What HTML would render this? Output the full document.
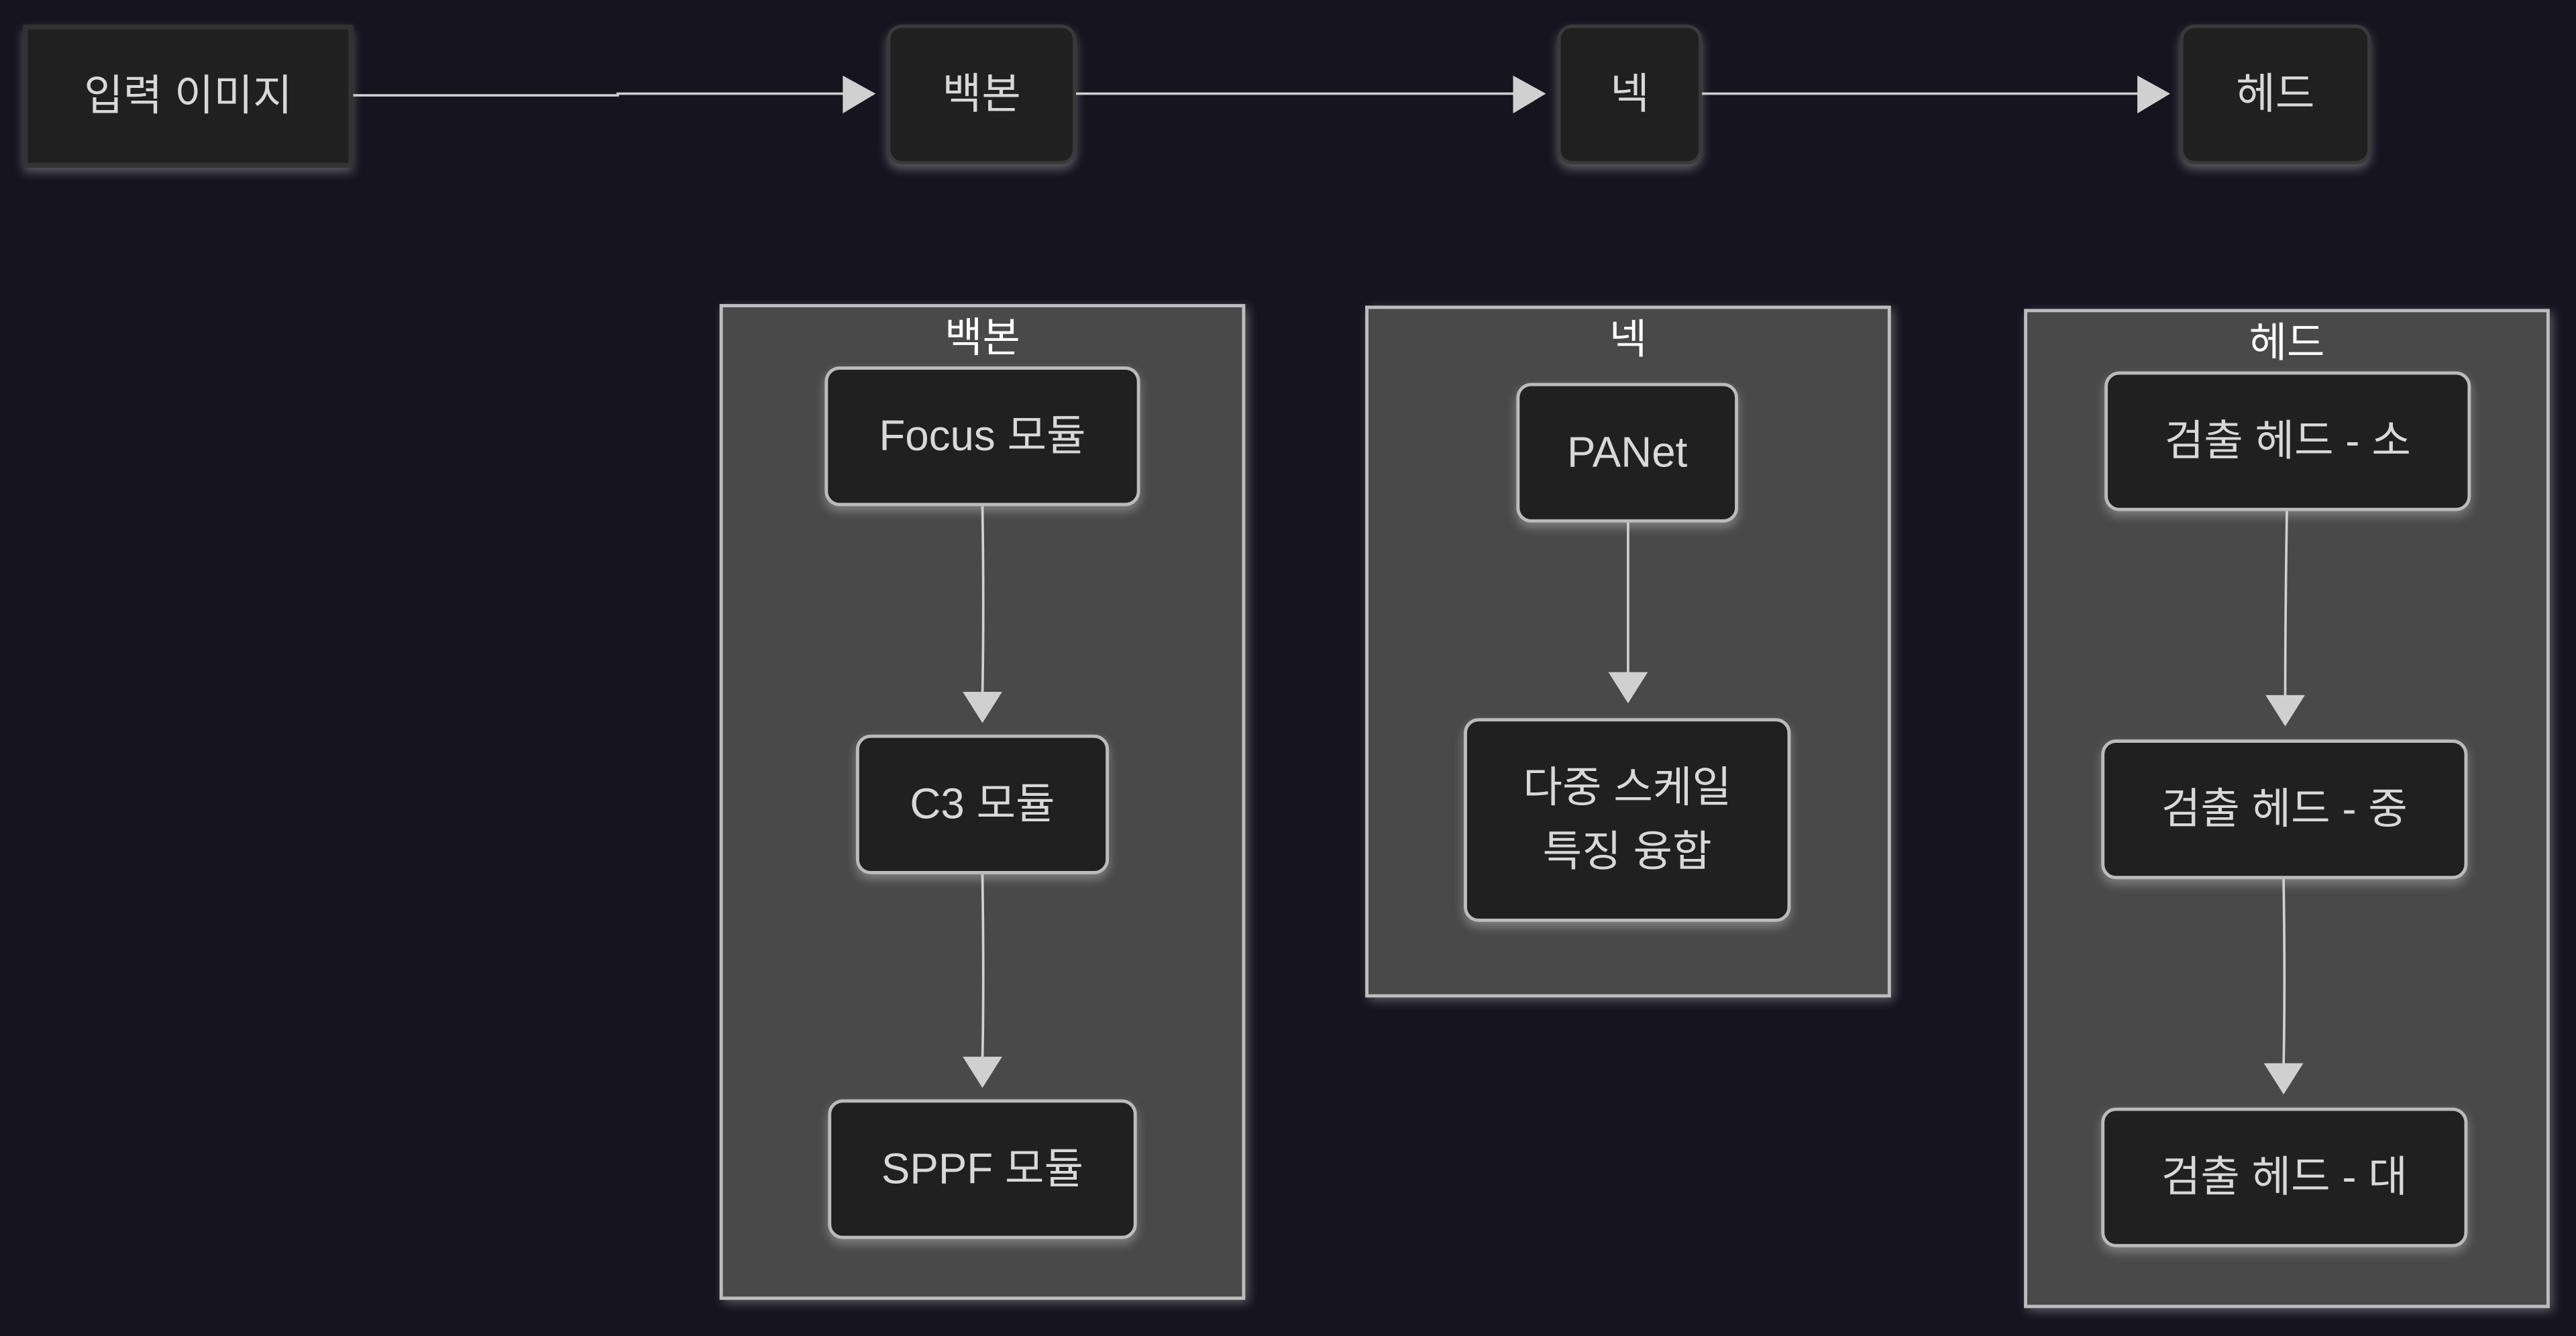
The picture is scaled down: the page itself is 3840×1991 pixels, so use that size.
<!DOCTYPE html>
<html><head><meta charset="utf-8"><style>
html,body{margin:0;padding:0;background:#15141f;width:3840px;height:1991px;overflow:hidden}
#w{position:absolute;left:0;top:0;width:1568px;height:813px;transform:scale(2.44898);transform-origin:0 0;font-family:"Liberation Sans","Noto Sans CJK KR",sans-serif}
.n{position:absolute;box-sizing:border-box;background:#1f201f;border:2px solid #3a3a3a;color:#d8d8d8;font-size:26px;display:flex;align-items:center;justify-content:center;text-align:center;line-height:39px;border-radius:9px;box-shadow:0 3px 6px rgba(230,230,230,0.35)}
.c{position:absolute;box-sizing:border-box;background:#484948;border:2px solid #bdbdbd;box-shadow:2px 2px 6px rgba(230,230,230,0.35)}
.t{position:absolute;left:0;right:0;text-align:center;color:#fff;font-size:25px;top:-1px}
svg{position:absolute;left:0;top:0}
</style></head><body><div id="w">
<div class="n" style="left:14px;top:15px;width:201px;height:87px;border-radius:0;border:3px solid #333">입력 이미지</div>
<div class="n" style="left:540px;top:15px;width:115px;height:85px">백본</div>
<div class="n" style="left:948px;top:15px;width:88px;height:85px">넥</div>
<div class="n" style="left:1327px;top:15px;width:116px;height:85px">헤드</div>

<div class="c" style="left:438px;top:185px;width:320px;height:606px"><div class="t">백본</div></div>
<div class="c" style="left:831px;top:186px;width:320px;height:421px"><div class="t">넥</div></div>
<div class="c" style="left:1232px;top:188px;width:320px;height:608px"><div class="t">헤드</div></div>

<div class="n" style="left:502px;top:223px;width:192px;height:85px;border-color:#bbb">Focus 모듈</div>
<div class="n" style="left:521px;top:447px;width:154px;height:85px;border-color:#bbb">C3 모듈</div>
<div class="n" style="left:504px;top:669px;width:188px;height:85px;border-color:#bbb">SPPF 모듈</div>
<div class="n" style="left:923px;top:233px;width:135px;height:85px;border-color:#bbb">PANet</div>
<div class="n" style="left:891px;top:437px;width:199px;height:124px;border-color:#bbb">다중 스케일<br>특징 융합</div>
<div class="n" style="left:1281px;top:226px;width:223px;height:85px;border-color:#bbb">검출 헤드 - 소</div>
<div class="n" style="left:1279px;top:450px;width:223px;height:85px;border-color:#bbb">검출 헤드 - 중</div>
<div class="n" style="left:1279px;top:674px;width:223px;height:85px;border-color:#bbb">검출 헤드 - 대</div>

<svg width="1568" height="813" viewBox="0 0 1568 813">
<g stroke="#d0d0d0" stroke-width="1.5" fill="none">
<path d="M215 58 L376 58 L376 57 L515 57"/>
<path d="M655 57 L923 57"/>
<path d="M1036 57 L1303 57"/>
<path d="M598 308 Q599 370 598 423"/>
<path d="M598 532 Q599 600 598 645"/>
<path d="M991 318 Q991 370 991 411"/>
<path d="M1392 311 Q1391 380 1391 425"/>
<path d="M1390 535 Q1391 600 1390 649"/>
</g>
<g fill="#d0d0d0">
<path d="M513 46 L533 57 L513 69Z"/>
<path d="M921 46 L941 57 L921 69Z"/>
<path d="M1301 46 L1321 57 L1301 69Z"/>
<path d="M586 421 L610 421 L598 440Z"/>
<path d="M586 643 L610 643 L598 662Z"/>
<path d="M979 409 L1003 409 L991 428Z"/>
<path d="M1379 423 L1403 423 L1391 442Z"/>
<path d="M1378 647 L1402 647 L1390 666Z"/>
</g>
</svg>
</div></body></html>
